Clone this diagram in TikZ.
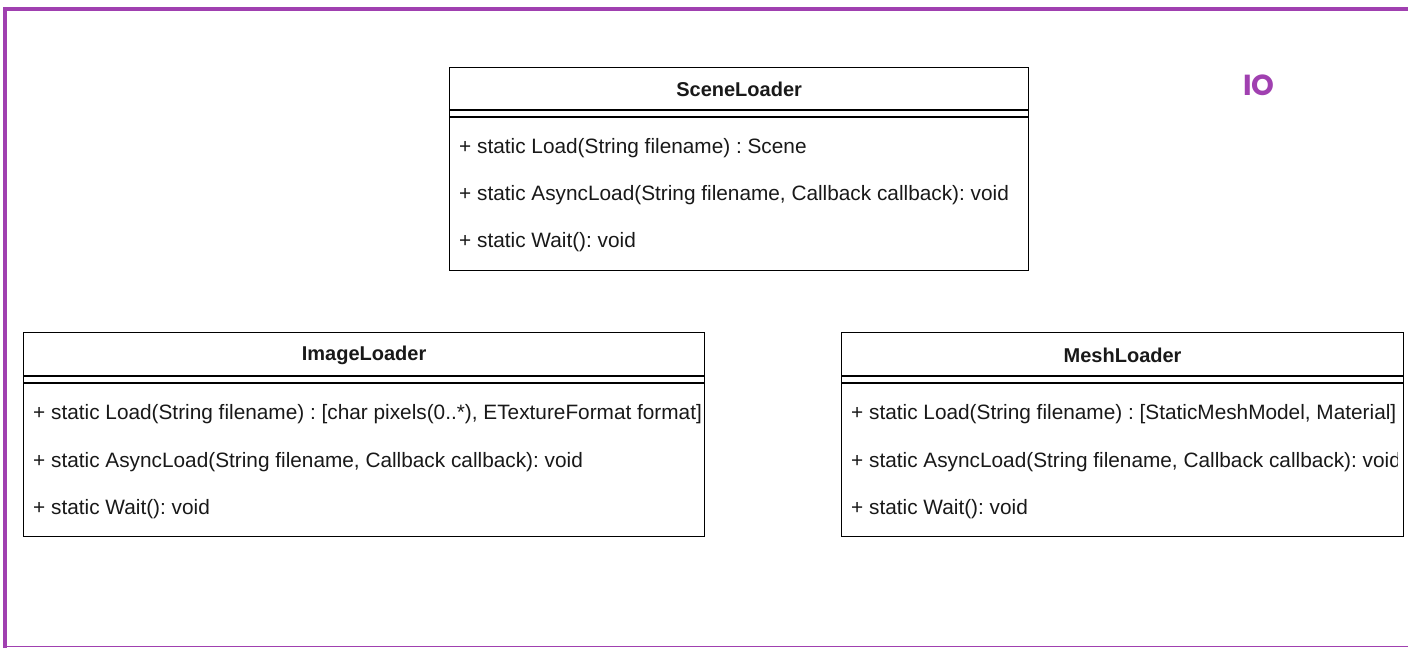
\documentclass[tikz,border=0pt]{standalone}
\usepackage{fontspec}
\setmainfont{Liberation Sans}
\newfontfamily\iofont{Poppins}
\usetikzlibrary{positioning}
\definecolor{FrameClr}{RGB}{160,64,176}
\definecolor{TextClr}{RGB}{25,25,25}

\begin{document}
\frenchspacing
\begin{tikzpicture}[x=1pt,y=-1pt,
  classbox/.style={draw=black,line width=1.2pt,fill=white,anchor=north west,inner sep=0pt},
  sepline/.style={draw=black,line width=1.2pt},
  classname/.style={font=\fontsize{20}{24}\selectfont\bfseries,text=TextClr},
  member/.style={font=\fontsize{20.8}{24}\selectfont,text=TextClr,anchor=west,inner sep=0pt}]
\useasboundingbox (0,0) rectangle (1408,648);
\fill[white] (0,0) rectangle (1408,648);

% package frame
\draw[FrameClr,line width=4pt] (5,648) -- (5,9) -- (1408,9);
\draw[FrameClr,line width=1.5pt] (5,646.5) -- (1408,646.5);
\node[font=\iofont\fontsize{29}{32}\selectfont\bfseries,text=FrameClr] (io) at (1259,85) {IO};

% SceneLoader
\node[classbox,minimum width=579,minimum height=203] (scene) at (449,67) {};
\draw[sepline] ([yshift=-43pt]scene.north west) -- ([yshift=-43pt]scene.north east);
\draw[sepline] ([yshift=-50pt]scene.north west) -- ([yshift=-50pt]scene.north east);
\node[classname] (sceneName) at ([yshift=-22pt]scene.north) {SceneLoader};
\node[member] (sceneLoad) at (459,148) {+ static Load(String filename) : Scene};
\node[member] (sceneAsync) at (459,195) {+ static AsyncLoad(String filename, Callback callback): void};
\node[member] (sceneWait) at (459,242) {+ static Wait(): void};

% ImageLoader
\node[classbox,minimum width=681,minimum height=204] (image) at (23,332) {};
\draw[sepline] ([yshift=-44pt]image.north west) -- ([yshift=-44pt]image.north east);
\draw[sepline] ([yshift=-51pt]image.north west) -- ([yshift=-51pt]image.north east);
\node[classname] (imageName) at ([yshift=-23pt]image.north) {ImageLoader};
\node[member] (imageLoad) at (33,414) {+ static Load(String filename) : [char pixels(0..*), ETextureFormat format]};
\node[member] (imageAsync) at (33,462) {+ static AsyncLoad(String filename, Callback callback): void};
\node[member] (imageWait) at (33,509) {+ static Wait(): void};

% MeshLoader
\node[classbox,minimum width=562,minimum height=204] (mesh) at (841,332) {};
\draw[sepline] ([yshift=-44pt]mesh.north west) -- ([yshift=-44pt]mesh.north east);
\draw[sepline] ([yshift=-51pt]mesh.north west) -- ([yshift=-51pt]mesh.north east);
\node[classname] (meshName) at ([yshift=-23pt]mesh.north) {MeshLoader};
\begin{scope}
\clip (841,332) rectangle (1397,536);
\node[member] (meshLoad) at (851,414) {+ static Load(String filename) : [StaticMeshModel, Material]};
\node[member] (meshAsync) at (851,462) {+ static AsyncLoad(String filename, Callback callback): void};
\node[member] (meshWait) at (851,509) {+ static Wait(): void};
\end{scope}
\end{tikzpicture}
\end{document}
